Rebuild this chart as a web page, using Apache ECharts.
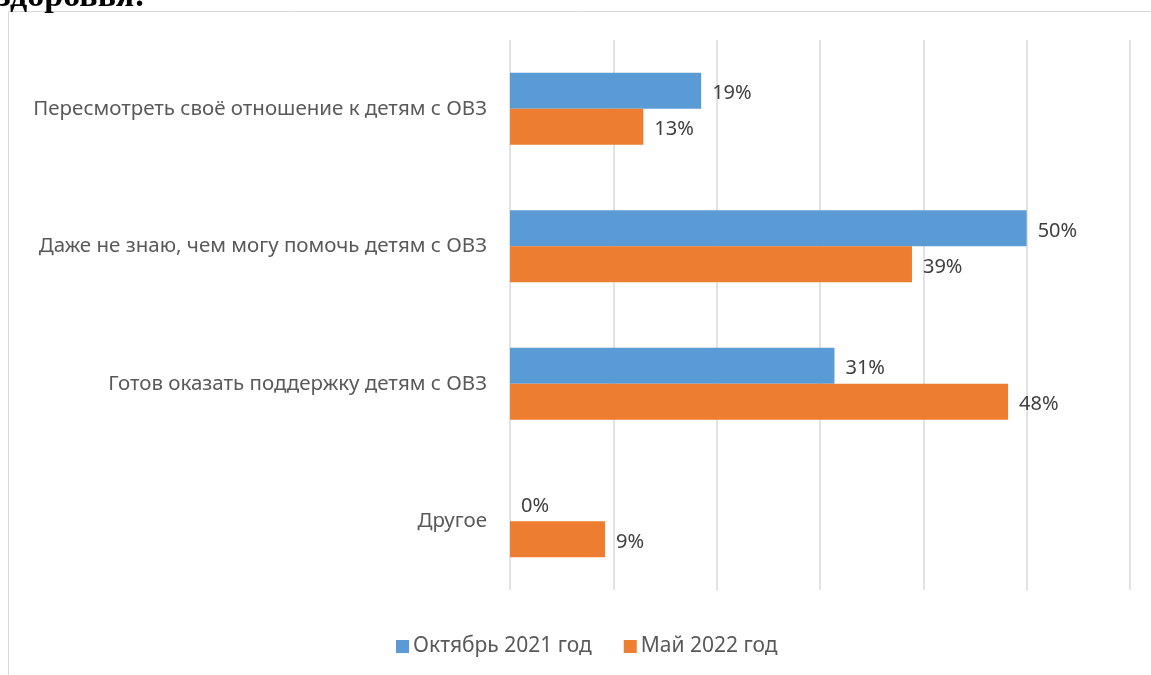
<!DOCTYPE html>
<html>
<head>
<meta charset="utf-8">
<script src="https://cdn.jsdelivr.net/npm/echarts@6/dist/echarts.min.js"></script>
<style>
  html, body { margin: 0; padding: 0; background: #fff; }
  #main { width: 1151px; height: 675px; }
</style>
</head>
<body>
<div id="main"></div>
<script>
// данные диаграммы
const categories = [
  'Пересмотреть своё отношение к детям с ОВЗ',
  'Даже не знаю, чем могу помочь детям с ОВЗ',
  'Готов оказать поддержку детям с ОВЗ',
  'Другое'
];
const seriesNames = ['Октябрь 2021 год', 'Май 2022 год'];
const oct2021 = [18.5, 50, 31.4, 0];
const may2022 = [12.9, 38.9, 48.2, 9.2];
const xTicks = [0, 10, 20, 30, 40, 50, 60];

let myChart = echarts.init(document.getElementById('main'));

const font = '"Noto Sans", "Open Sans", sans-serif';

// подпись значения в процентах
const valueLabel = {
  show: true,
  position: 'right',
  distance: 11,
  offset: [0, 3],
  fontFamily: font,
  fontSize: 20,
  color: '#404040',
  formatter: p => Math.round(p.value) + '%'
};

let option = {
  animation: false,
  color: ['#5b9bd5', '#ed7d31'],
  graphic: [
    {
      type: 'rect',
      shape: { x: 8.5, y: 11.5, width: 1160, height: 680 },
      style: { fill: 'none', stroke: '#d9d9d9', lineWidth: 1 }
    },
    {
      type: 'text',
      left: -3,
      top: -20,
      style: {
        text: 'здоровья:',
        font: 'bold 34px "Liberation Serif", serif',
        fill: '#000'
      }
    }
  ],
  legend: {
    data: seriesNames,
    left: 391,
    top: 631,
    itemWidth: 13,
    itemHeight: 13,
    itemGap: 32,
    icon: 'rect',
    textStyle: { fontFamily: font, fontSize: 21, color: '#595959', padding: [0, 0, 0, -1] }
  },
  grid: {
    left: 510,
    right: 21,
    top: 40,
    bottom: 85
  },
  xAxis: {
    type: 'value',
    min: xTicks[0],
    max: xTicks[xTicks.length - 1],
    interval: 10,
    axisLabel: { show: false },
    axisLine: { show: false },
    axisTick: { show: false },
    splitLine: { lineStyle: { color: '#d9d9d9', width: 1.5 } }
  },
  yAxis: {
    type: 'category',
    data: categories,
    inverse: true,
    axisLine: { show: false },
    axisTick: { show: false },
    axisLabel: {
      margin: 23,
      fontFamily: font,
      fontSize: 20.5,
      color: '#595959'
    }
  },
  series: [
    {
      name: seriesNames[0],
      type: 'bar',
      barWidth: 36,
      barGap: '0%',
      data: oct2021,
      label: valueLabel
    },
    {
      name: seriesNames[1],
      type: 'bar',
      barWidth: 36,
      barGap: '0%',
      data: may2022,
      label: valueLabel
    }
  ]
};

myChart.setOption(option);
</script>
</body>
</html>
